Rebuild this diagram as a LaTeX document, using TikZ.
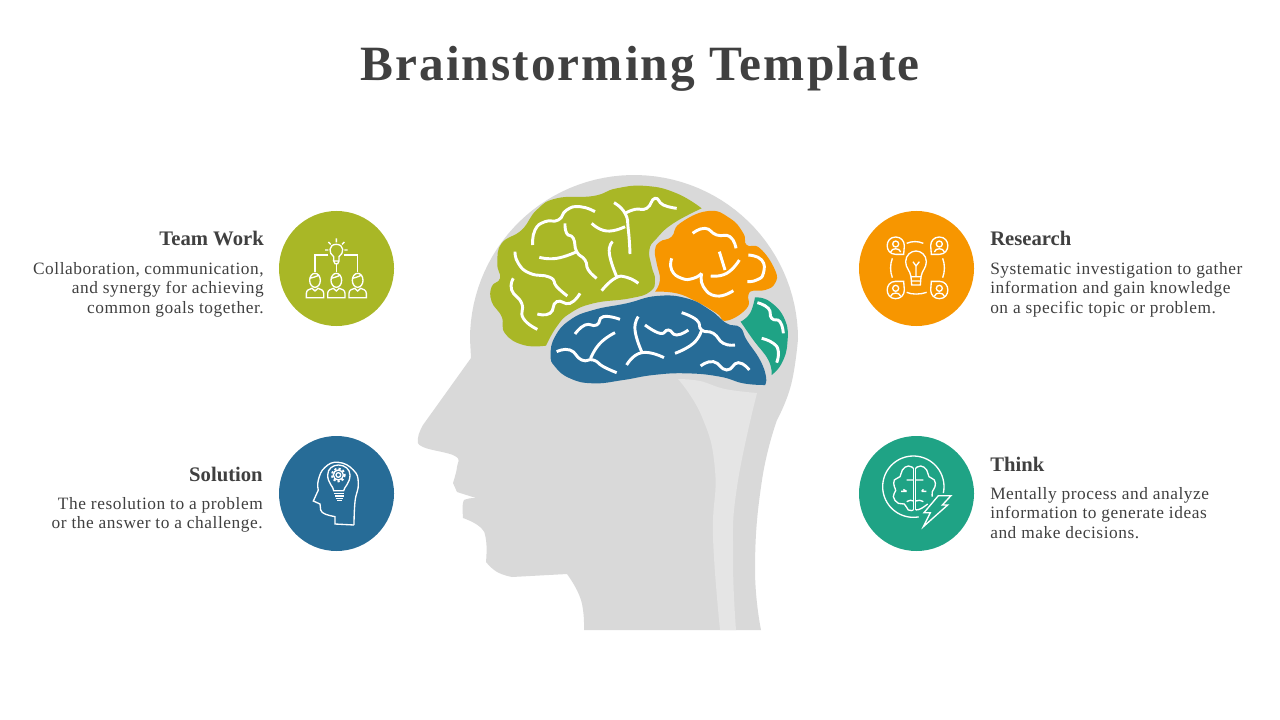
\documentclass[tikz,border=0pt]{standalone}
\usepackage{fontspec}
\setmainfont{Liberation Serif}
\newfontfamily\titlefont[LetterSpace=4.2]{Liberation Serif}
\newfontfamily\bodyfont[LetterSpace=3.2]{Liberation Serif}
\definecolor{leafgreen}{HTML}{A9B726}
\definecolor{sunorange}{HTML}{F79600}
\definecolor{deepblue}{HTML}{276C97}
\definecolor{seagreen}{HTML}{1FA385}
\definecolor{headgrey}{HTML}{D9D9D9}
\definecolor{stripgrey}{HTML}{E5E5E5}
\definecolor{inkgrey}{HTML}{404040}
\tikzset{
  titletext/.style={text=inkgrey,inner sep=0pt,font=\titlefont\fontsize{37}{40}\selectfont\bfseries},
  headtext/.style={text=inkgrey,inner sep=0pt,font=\fontsize{15.5}{18}\selectfont\bfseries},
  bodyleft/.style={text=inkgrey,inner sep=0pt,align=right,anchor=north east,font=\bodyfont\fontsize{13}{14.6}\selectfont},
  bodyright/.style={text=inkgrey,inner sep=0pt,align=left,anchor=north west,font=\bodyfont\fontsize{13}{14.6}\selectfont},
  badge/.style={circle,inner sep=0pt,minimum size=86.25pt},
  gyrus/.style={draw=white,line width=2.2pt,smooth,tension=0.9},
  iconline/.style={draw=white,line width=1pt},
  iconbox/.style={x=0.25pt,y=-0.25pt}
}
\begin{document}
\begin{tikzpicture}[x=0.75pt,y=-0.75pt]
  \useasboundingbox (0,0) rectangle (1280,720);
  \fill[white] (0,0) rectangle (1280,720);

  \node[titletext] (title) at (640,69) {Brainstorming Template};

  % head
  \fill[headgrey] (584,630) -- plot[smooth,tension=0.8] coordinates {(584,630) (581,600) (567,574)}
    -- (512,577) -- plot[smooth,tension=0.8] coordinates {(512,577) (497,572) (486,562)}
    -- plot[smooth,tension=0.8] coordinates {(486,562) (486,540) (480,527) (463,518)}
    -- plot[smooth,tension=0.8] coordinates {(463,518) (463,503) (467,499) (476,498)}
    -- (457,492) -- (453,483) -- plot[smooth,tension=0.7] coordinates {(453,483) (457,467) (455,456) (423,447) (418,438) (423,425)}
    -- (471,358) -- (470,339) -- plot[domain=180:360,samples=60] ({634+164*cos(\x)},{339+164*sin(\x)})
    -- plot[smooth,tension=0.8] coordinates {(798,339) (791,385) (777,420)}
    -- plot[smooth,tension=0.8] coordinates {(777,420) (762,480) (755,567) (761,630)} -- cycle;
  \fill[stripgrey] plot[smooth,tension=0.8] coordinates {(678,379) (702,417) (715,470) (713,537) (720,630)}
    -- (736,630) -- plot[smooth,tension=0.8] coordinates {(736,630) (733,557) (737,487) (757,393)}
    -- plot[smooth,tension=0.7] coordinates {(757,393) (725,389) (700,381) (678,379)} -- cycle;

  % brain
  \begin{scope}[shift={(460,170)},iconbox]
    \fill[leafgreen] plot[smooth,tension=0.8] coordinates {(258,527) (190,525) (135,490) (125,440) (95,395) (95,350) (120,325) (112,280) (125,220) (185,180) (230,120) (290,85) (400,78) (470,55) (560,48) (650,70) (725,115)}
      -- plot[smooth,tension=0.8] coordinates {(725,115) (640,160) (590,205) (568,240) (575,290) (585,330) (570,365) (510,385) (400,400) (330,430) (290,470) (258,527)} -- cycle;
    \fill[sunorange] plot[smooth,tension=0.8] coordinates {(585,365) (600,330) (590,280) (585,240) (600,215) (635,200) (660,160) (745,123) (810,145) (850,190) (860,225) (900,235) (945,300) (945,340) (915,360) (880,362) (865,375) (860,415) (800,452) (770,430) (710,395) (650,370) (585,365)} -- cycle;
    \fill[seagreen] plot[smooth,tension=0.8] coordinates {(885,382) (930,395) (975,450) (982,520) (965,580) (935,615)}
      -- plot[smooth,tension=0.8] coordinates {(935,615) (925,570) (880,510) (842,455)}
      -- plot[smooth,tension=0.8] coordinates {(842,455) (870,430) (885,382)} -- cycle;
    \fill[deepblue] plot[smooth,tension=0.8] coordinates {(915,645) (918,620) (900,570) (860,510) (840,472) (800,460) (750,420) (680,385) (590,378) (500,400) (400,420) (330,450) (285,500) (272,555) (285,590) (330,625) (400,640) (490,630) (580,615) (680,610) (780,620) (850,640) (915,645)} -- cycle;
    % green folds
    \draw[gyrus] plot coordinates {(218,225) (225,180) (255,155) (295,150) (320,120) (360,110) (405,125)};
    \draw[gyrus] plot coordinates {(315,160) (320,190) (340,205) (350,245) (375,270) (385,300) (410,325)};
    \draw[gyrus] plot coordinates {(238,262) (290,265) (350,245)};
    \draw[gyrus] plot coordinates {(165,245) (175,280) (210,310) (270,322) (290,350) (322,378)};
    \draw[gyrus] plot coordinates {(160,325) (155,360) (185,400) (190,445) (232,478)};
    \draw[gyrus] plot coordinates {(232,432) (270,430) (290,395) (330,400) (360,370)};
    \draw[gyrus] plot coordinates {(395,160) (440,183) (495,170)};
    \draw[gyrus] plot coordinates {(462,98) (495,130) (505,180) (510,252)};
    \draw[gyrus] plot coordinates {(495,130) (525,118) (560,115) (585,85) (610,105) (650,115)};
    \draw[gyrus] plot coordinates {(458,215) (448,250) (470,320)};
    \draw[gyrus] plot coordinates {(425,362) (465,325) (500,322) (535,340)};
    % orange folds
    \draw[gyrus] plot coordinates {(698,190) (735,175) (770,195) (810,200) (828,235)};
    \draw[gyrus] plot coordinates {(635,265) (635,300) (665,325) (700,325) (725,310)};
    \draw[gyrus] plot coordinates {(725,310) (730,350) (770,378) (820,362)};
    \draw[gyrus] plot coordinates {(778,245) (795,300)};
    \draw[gyrus] plot coordinates {(752,318) (800,310) (838,270)};
    \draw[gyrus] plot coordinates {(865,255) (905,270) (910,310) (890,330) (862,335)};
    % teal folds
    \draw[gyrus] plot coordinates {(892,398) (925,415) (935,445) (960,455) (970,490)};
    \draw[gyrus] plot coordinates {(905,505) (940,520) (955,545) (950,578)};
    % blue folds
    \draw[gyrus] plot coordinates {(345,492) (375,465) (410,465) (430,440) (480,448)};
    \draw[gyrus] plot coordinates {(290,545) (330,540) (365,570) (400,570) (430,590) (470,608)};
    \draw[gyrus] plot coordinates {(392,565) (420,520) (465,488)};
    \draw[gyrus] plot coordinates {(535,440) (525,480) (545,545)};
    \draw[gyrus] plot coordinates {(500,585) (545,548) (612,563)};
    \draw[gyrus] plot coordinates {(555,465) (600,490) (625,480) (650,495) (685,480)};
    \draw[gyrus] plot coordinates {(665,428) (710,450) (725,480) (760,490) (790,520) (825,525)};
    \draw[gyrus] plot coordinates {(725,480) (700,520) (645,550)};
    \draw[gyrus] plot coordinates {(722,588) (760,575) (800,600) (835,578) (868,600)};
  \end{scope}

  % badges
  \node[badge,fill=leafgreen] (teamwork) at (336.5,268.5) {};
  \node[badge,fill=deepblue] (solution) at (336.5,493.5) {};
  \node[badge,fill=sunorange] (research) at (916.5,268.5) {};
  \node[badge,fill=seagreen] (think) at (916.5,493.5) {};

  % team work icon
  \begin{scope}[shift={(275,205)},iconbox]
    \draw[iconline] (176,168) -- (176,155) .. controls (160,145) and (160,118) .. (184,118) .. controls (208,118) and (208,145) .. (192,155) -- (192,168) -- (176,168) -- (180,176) -- (188,176) -- (192,168);
    \draw[iconline] (184,100) -- (184,112) (150,135) -- (160,135) (208,135) -- (218,135) (160,111) -- (167,118) (208,111) -- (201,118);
    \draw[iconline] (160,150) -- (120,150) -- (120,200) (208,150) -- (248,150) -- (248,200) (184,178) -- (184,200);
    \foreach \px in {120,184,248} {
      \draw[iconline,shift={(\px,0)}] (0,226) ellipse (16 and 21);
      \draw[iconline,shift={(\px,0)}] (-16,220) .. controls (-8,218) and (4,215) .. (12,210);
      \draw[iconline,shift={(\px,0)}] (-26,278) -- (-26,265) .. controls (-26,255) and (-16,252) .. (-9,250) -- (0,258) -- (9,250) .. controls (16,252) and (26,255) .. (26,265) -- (26,278) -- cycle;
    }
  \end{scope}

  % solution icon
  \begin{scope}[shift={(275,430)},iconbox]
    \draw[iconline] plot[smooth,tension=0.8] coordinates {(237,285) (240,215) (250,160) (235,120) (190,97) (150,112) (130,150) (130,180)} -- (115,213) -- (135,222) -- (137,240) .. controls (140,252) and (160,256) .. (180,260) -- (180,282) -- (237,285);
    \draw[iconline] (176,182) .. controls (176,170) and (158,160) .. (158,135) .. controls (158,115) and (175,105) .. (190,105) .. controls (210,105) and (225,118) .. (225,135) .. controls (225,160) and (208,170) .. (206,182) -- cycle;
    \draw[iconline] (178,190) -- (208,190) (180,198) -- (206,198) (182,206) -- (204,206) (186,212) -- (200,212);
    \draw[iconline] (190,135) circle (7);
    \draw[iconline] (190,135) circle (15);
    \draw[iconline,line width=1.5pt,dash pattern=on 1.6pt off 1.6pt] (190,135) circle (19);
  \end{scope}

  % research icon
  \begin{scope}[shift={(855,205)},iconbox]
    \draw[iconline] (168,215) .. controls (165,195) and (152,190) .. (152,170) .. controls (152,150) and (168,138) .. (183,138) .. controls (198,138) and (214,150) .. (214,170) .. controls (214,190) and (201,195) .. (198,215) -- cycle;
    \draw[iconline] (168,215) -- (170,240) -- (196,240) -- (198,215) (169,228) -- (197,228);
    \draw[iconline] (174,170) -- (183,183) -- (193,170) (183,183) -- (183,215);
    \draw[iconline] (155,115) .. controls (170,108) and (190,108) .. (205,115);
    \draw[iconline] (155,262) .. controls (170,269) and (195,269) .. (215,262);
    \draw[iconline] (112,160) .. controls (105,178) and (105,200) .. (112,218);
    \draw[iconline] (263,160) .. controls (270,178) and (270,200) .. (263,218);
    \foreach \cx/\cy/\sx/\sy in {122/122/1/1,253/122/-1/1,122/255/1/-1,253/255/-1/-1} {
      \begin{scope}[shift={(\cx,\cy)},xscale=\sx,yscale=\sy]
        \draw[iconline] (24,26) -- (0,26) .. controls (-34,26) and (-34,-26) .. (0,-26) .. controls (16,-26) and (26,-14) .. (26,0) -- cycle;
      \end{scope}
      \draw[iconline] (\cx,\cy-5) circle (9);
      \draw[iconline] (\cx-15,\cy+19) .. controls (\cx-12,\cy+6) and (\cx+12,\cy+6) .. (\cx+15,\cy+19);
    }
  \end{scope}

  % think icon
  \begin{scope}[shift={(855,430)},iconbox]
    \draw[iconline] plot[domain=80:372,samples=60] ({175+92*cos(\x)},{170+92*sin(\x)});
    \draw[iconline] plot[smooth,tension=0.9] coordinates {(175,115) (160,108) (142,120) (135,140) (118,150) (118,170) (122,182) (115,200) (130,220) (148,222) (160,240) (175,240)};
    \draw[iconline] plot[smooth,tension=0.9] coordinates {(182,115) (197,108) (215,120) (222,140) (238,150) (240,170) (232,185) (232,200)};
    \draw[iconline] (175,115) -- (175,240) (182,115) -- (182,240);
    \draw[iconline] (182,240) .. controls (195,240) and (205,232) .. (218,222);
    \draw[iconline] (138,184) -- (155,184) (145,178) -- (155,184) (200,184) -- (214,184) (205,178) -- (200,184) (155,150) -- (175,150) (182,150) -- (205,150) (155,215) .. controls (165,210) and (170,210) .. (175,213) (182,213) .. controls (190,210) and (195,210) .. (205,215);
    \draw[iconline,fill=seagreen] (250,197) -- (288,197) -- (262,225) -- (278,225) -- (205,290) -- (226,248) -- (207,248) -- cycle;
  \end{scope}

  % left texts
  \node[headtext,anchor=base east] (teamhead) at (264,246) {Team Work};
  \node[bodyleft] (teambody) at (264,262) {\makebox[173pt][s]{Collaboration, communication,}\\and synergy for achieving\\common goals together.};
  \node[headtext,anchor=base east] (solutionhead) at (263,481) {Solution};
  \node[bodyleft] (solutionbody) at (263,497) {The resolution to a problem\\or the answer to a challenge.};

  % right texts
  \node[headtext,anchor=base west] (researchhead) at (990,246) {Research};
  \node[bodyright] (researchbody) at (990,262) {Systematic investigation to gather\\information and gain knowledge\\on a specific topic or problem.};
  \node[headtext,anchor=base west] (thinkhead) at (990,471) {Think};
  \node[bodyright] (thinkbody) at (990,487) {Mentally process and analyze\\information to generate ideas\\and make decisions.};
\end{tikzpicture}
\end{document}
